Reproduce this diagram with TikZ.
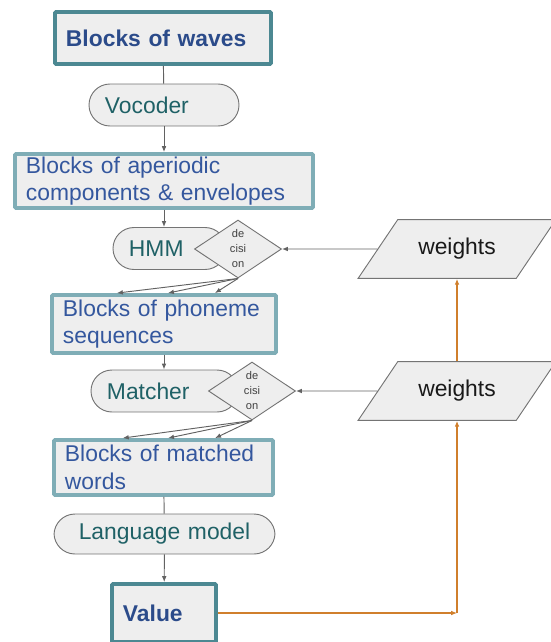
\documentclass[tikz,border=0pt]{standalone}
\usepackage{fontspec}
\setmainfont{Liberation Sans}
\usetikzlibrary{arrows.meta,shapes.geometric}
\definecolor{paper}{HTML}{EEEEEE}
\definecolor{rim}{HTML}{7FADB6}
\definecolor{rimdark}{HTML}{4C8892}
\definecolor{ink}{HTML}{34579E}
\definecolor{inkdark}{HTML}{2B4B8A}
\definecolor{tealtext}{HTML}{1F6166}
\definecolor{stroke}{HTML}{747474}
\definecolor{wire}{HTML}{626262}
\definecolor{amber}{HTML}{D07F2C}

\begin{document}
\begin{tikzpicture}[x=0.03cm,y=-0.03cm,
  box/.style={draw=rim,line width=3.3pt,fill=paper,rounded corners=1pt,text=ink,align=left,
    font=\fontsize{19.5}{23.5}\selectfont,inner xsep=0.33cm,inner ysep=0pt},
  keybox/.style={box,draw=rimdark,text=inkdark,font=\fontsize{19.5}{23.5}\selectfont\bfseries},
  proc/.style={draw=stroke,line width=0.8pt,fill=paper,rounded corners=0.63cm,text=tealtext,align=left,
    font=\fontsize{19.5}{23.5}\selectfont,inner xsep=0.48cm,inner ysep=0pt,minimum height=1.26cm},
  choice/.style={diamond,aspect=1.5,draw=stroke,line width=0.8pt,fill=paper,inner sep=0pt,
    minimum width=2.61cm,minimum height=1.74cm,align=center,text=black!75,font=\fontsize{9.5}{12.8}\selectfont},
  store/.style={trapezium,trapezium left angle=56,trapezium right angle=124,
    draw=stroke,line width=0.8pt,fill=paper,inner xsep=17.5pt,inner ysep=16pt,
    text=black!90,font=\fontsize{19.5}{23.5}\selectfont},
  wire/.style={draw=wire,line width=0.8pt},
  flow/.style={wire,-{Latex[length=5pt,width=4pt]}},
  feed/.style={draw=amber,line width=0.9pt,-{Latex[length=5pt,width=4pt]}}]
\useasboundingbox (0,0) rectangle (550,642);

\node[keybox,text width=5.82cm,minimum height=1.56cm] (waves) at (163,38) {Blocks of waves};
\node[proc,text width=3.54cm] (voc) at (164,105) {Vocoder};
\node[box,text width=8.28cm,minimum height=1.62cm] (aper) at (164,181) {Blocks of aperiodic\\components \& envelopes};
\node[proc,text width=2.43cm] (hmm) at (169.5,248.5) {HMM};
\node[choice] (d1) at (238,249) {de\\cisi\\on};
\node[box,text width=6.06cm,minimum height=1.74cm] (pho) at (164,324) {Blocks of phoneme\\sequences};
\node[proc,text width=3.45cm] (mat) at (164.5,391) {Matcher};
\node[choice] (d2) at (252,391) {de\\cisi\\on};
\node[box,text width=5.91cm,minimum height=1.65cm] (words) at (163.5,467.5) {Blocks of matched\\words};
\node[proc,text width=5.67cm,align=center,minimum height=1.2cm] (lm) at (164.5,534) {Language model};
\node[keybox,text width=2.46cm,minimum height=1.74cm] (value) at (164,613) {Value};

\node[store] (w1) at (457,249) {weights};
\node[store] (w2) at (457,391) {weights};

\draw[wire] (waves) -- (voc);
\draw[flow] (voc) -- (aper);
\draw[flow] (aper.south) -- (aper.south |- hmm.north);
\foreach \dx in {-1.41,0.12,1.53}
  \draw[flow] (d1.south) -- ([xshift=\dx cm]pho.north);
\draw[flow] (pho.south) -- (pho.south |- mat.north);
\foreach \dx in {-1.22,0.14,1.55}
  \draw[flow] (d2.south) -- ([xshift=\dx cm]words.north);
\draw[wire] (words) -- (lm);
\draw[flow] (lm) -- (value);
\draw[flow] (w1) -- (d1);
\draw[flow] (w2) -- (d2);

\coordinate (turn) at (value.east -| w2.south);
\draw[feed] (value.east) -- (turn);
\draw[feed] (turn) -- (w2.south);
\draw[feed] (w2.north) -- (w1.south);
\end{tikzpicture}
\end{document}
